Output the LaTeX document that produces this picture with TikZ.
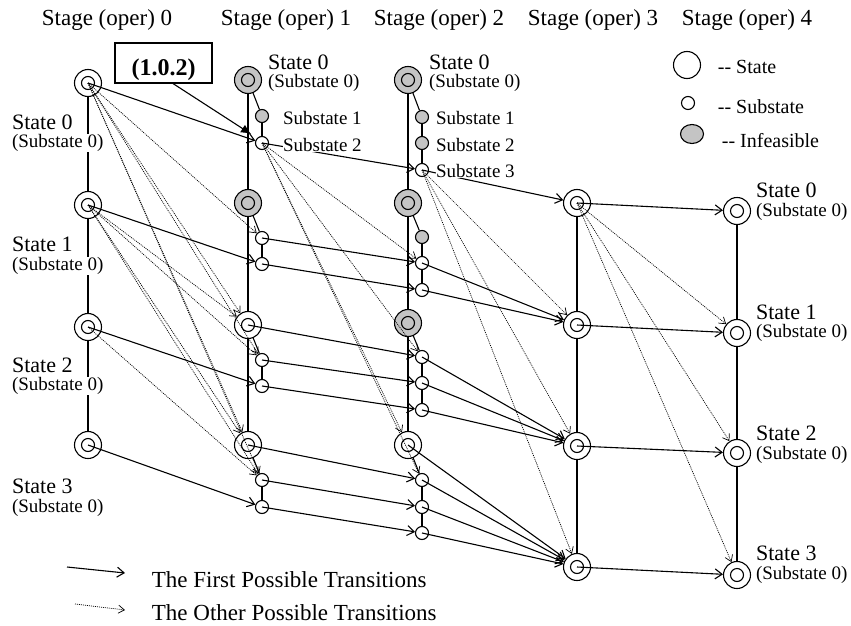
\documentclass[tikz,border=0pt]{standalone}
\usepackage{fontspec}
\setmainfont{Liberation Serif}
\usetikzlibrary{arrows.meta,shapes.geometric}
\definecolor{infgray}{RGB}{196,196,196}
\tikzset{
  st/.style={circle,draw,fill=white,minimum size=27pt,inner sep=0pt,
    path picture={\draw (path picture bounding box.center) circle (6.5pt);}},
  inf/.style={st,fill=infgray},
  sub/.style={circle,draw,fill=white,minimum size=13pt,inner sep=0pt},
  subinf/.style={sub,fill=infgray},
  first/.style={-{Straight Barb[length=7pt,width=10pt]}},
  other/.style={line width=0.7pt,dash pattern=on 1pt off 1pt,black,
    -{Straight Barb[length=6pt,width=8pt]}},
  head/.style={anchor=west,font=\fontsize{23}{23}\selectfont},
  lbl/.style={anchor=west,fill=white,inner sep=0.5pt,font=\fontsize{22}{22}\selectfont},
  sublbl/.style={lbl,font=\fontsize{19}{19}\selectfont},
  leg/.style={anchor=west,font=\fontsize{20}{20}\selectfont},
}
\begin{document}
\begin{tikzpicture}[x=1pt,y=-1pt,line width=1.1pt]
  \useasboundingbox (0,0) rectangle (851,626);
  % stage headers
  \node[head] (h0) at (38,20) {Stage (oper) 0};
  \node[head] (h1) at (217,20) {Stage (oper) 1};
  \node[head] (h2) at (370,20) {Stage (oper) 2};
  \node[head] (h3) at (524,20) {Stage (oper) 3};
  \node[head] (h4) at (678,20) {Stage (oper) 4};
  % stage 0
  \node[st] (a0) at (88,83) {};
  \node[st] (a1) at (88,205) {};
  \node[st] (a2) at (88,327) {};
  \node[st] (a3) at (88,445) {};
  % stage 1
  \node[inf] (b0) at (248,80) {};
  \node[subinf] (b01) at (262,116) {};
  \node[sub] (b02) at (262,143) {};
  \node[inf] (b1) at (248,203) {};
  \node[sub] (b11) at (262,238) {};
  \node[sub] (b12) at (262,264) {};
  \node[st] (b2) at (248,325) {};
  \node[sub] (b21) at (262,360) {};
  \node[sub] (b22) at (262,386) {};
  \node[st] (b3) at (248,445) {};
  \node[sub] (b31) at (262,480) {};
  \node[sub] (b32) at (262,507) {};
  % stage 2
  \node[inf] (c0) at (408,80) {};
  \node[subinf] (c01) at (422,117) {};
  \node[subinf] (c02) at (422,143) {};
  \node[sub] (c03) at (422,170) {};
  \node[inf] (c1) at (408,203) {};
  \node[subinf] (c11) at (422,237) {};
  \node[sub] (c12) at (422,263) {};
  \node[sub] (c13) at (422,290) {};
  \node[inf] (c2) at (408,323) {};
  \node[sub] (c21) at (422,357) {};
  \node[sub] (c22) at (422,383) {};
  \node[sub] (c23) at (422,410) {};
  \node[st] (c3) at (408,445) {};
  \node[sub] (c31) at (422,480) {};
  \node[sub] (c32) at (422,507) {};
  \node[sub] (c33) at (422,533) {};
  % stage 3
  \node[st] (d0) at (577,203) {};
  \node[st] (d1) at (577,325) {};
  \node[st] (d2) at (577,446) {};
  \node[st] (d3) at (577,567) {};
  % stage 4
  \node[st] (e0) at (737,211) {};
  \node[st] (e1) at (737,333) {};
  \node[st] (e2) at (737,453) {};
  \node[st] (e3) at (737,575) {};
  % stage and substate links
  \begin{scope}[-]
    \foreach \p/\q in {a0/a1,a1/a2,a2/a3,
        b0/b1,b1/b2,b2/b3,b0/b01,b01/b02,b1/b11,b11/b12,
        b2/b21,b21/b22,b3/b31,b31/b32,
        c0/c1,c1/c2,c2/c3,c0/c01,c01/c02,c02/c03,c1/c11,c11/c12,c12/c13,
        c2/c21,c21/c22,c22/c23,c3/c31,c31/c32,c32/c33,
        d0/d1,d1/d2,d2/d3,e0/e1,e1/e2,e2/e3}
      \draw (\p) -- (\q);
  \end{scope}
  % first possible transitions
  \begin{scope}[first]
    \draw (a0.center) -- (b02);
    \draw (a1.center) -- (b12);
    \draw (a2.center) -- (b22);
    \draw (a3.center) -- (b32);
    \draw (b02.center) -- (c03);
    \draw (b11.center) -- (c12);
    \draw (b12.center) -- (c13);
    \draw (b2.center) -- (c21);
    \draw (b21.center) -- (c22);
    \draw (b22.center) -- (c23);
    \draw (b3.center) -- (c31);
    \draw (b31.center) -- (c32);
    \draw (b32.center) -- (c33);
    \draw (c03.center) -- (d0);
    \draw (c12.center) -- (d1);
    \draw (c13.center) -- (d1);
    \draw (c21.center) -- (d2);
    \draw (c22.center) -- (d2);
    \draw (c23.center) -- (d2);
    \draw (c3.center) -- (d3);
    \draw (c31.center) -- (d3);
    \draw (c32.center) -- (d3);
    \draw (c33.center) -- (d3);
    \draw (d0.center) -- (e0);
    \draw (d1.center) -- (e1);
    \draw (d2.center) -- (e2);
    \draw (d3.center) -- (e3);
  \end{scope}
  % other possible transitions
  \foreach \p/\q in {a0/b11,a0/b2,a0/b21,a0/b3,a0/b31,
      a1/b2,a1/b21,a1/b3,a1/b31,a2/b31,
      b02/c12,b02/c21,b02/c3,b02/c31,
      c03/d1,c03/d2,c03/d3,d0/e1,d0/e2,d0/e3}
    \draw[other] (\p.center) -- (\q);
  % the (1.0.2) tag
  \node[draw,minimum width=97pt,minimum height=40pt,text height=24pt,text depth=0pt,
    font=\bfseries\fontsize{24}{24}\selectfont] (tag) at (163.5,63) {(1.0.2)};
  \coordinate (tagtip) at (251,134);
  \draw[-{Latex[length=10pt,width=9pt]}] ([xshift=9.5pt]tag.south) -- (tagtip);
  % labels
  \node[lbl] (la0) at (11,122) {State 0};
  \node[sublbl] (la0s) at (11,143) {(Substate 0)};
  \node[lbl] (la1) at (11,244) {State 1};
  \node[sublbl] (la1s) at (11,266) {(Substate 0)};
  \node[lbl] (la2) at (11,365) {State 2};
  \node[sublbl] (la2s) at (11,386) {(Substate 0)};
  \node[lbl] (la3) at (11,486) {State 3};
  \node[sublbl] (la3s) at (11,508) {(Substate 0)};
  \node[lbl] (lb0) at (267,62) {State 0};
  \node[sublbl] (lb0s) at (267,83) {(Substate 0)};
  \node[sublbl] (lb01) at (282,118) {Substate 1};
  \node[sublbl] (lb02) at (282,145) {Substate 2};
  \node[lbl] (lc0) at (428,62) {State 0};
  \node[sublbl] (lc0s) at (428,83) {(Substate 0)};
  \node[sublbl] (lc01) at (435,118) {Substate 1};
  \node[sublbl] (lc02) at (435,145) {Substate 2};
  \node[sublbl] (lc03) at (435,171) {Substate 3};
  \node[lbl] (le0) at (755,190) {State 0};
  \node[sublbl] (le0s) at (755,212) {(Substate 0)};
  \node[lbl] (le1) at (755,312) {State 1};
  \node[sublbl] (le1s) at (755,333) {(Substate 0)};
  \node[lbl] (le2) at (755,433) {State 2};
  \node[sublbl] (le2s) at (755,455) {(Substate 0)};
  \node[lbl] (le3) at (755,553) {State 3};
  \node[sublbl] (le3s) at (755,575) {(Substate 0)};
  % legend
  \node[circle,draw,minimum size=27pt] (legst) at (687,65) {};
  \node[leg] (legstt) at (714,67) {-{}- State};
  \node[circle,draw,minimum size=13pt,inner sep=0pt] (legsub) at (688,103) {};
  \node[leg] (legsubt) at (714,107) {-{}- Substate};
  \node[ellipse,draw,fill=infgray,minimum width=23pt,minimum height=19pt] (leginf) at (692,134) {};
  \node[leg] (leginft) at (718,141) {-{}- Infeasible};
  \coordinate (lf1) at (67,567);
  \coordinate (lf2) at (125,573);
  \draw[first] (lf1) -- (lf2);
  \node[leg,font=\fontsize{23}{23}\selectfont] (lft) at (148,580) {The First Possible Transitions};
  \coordinate (lo1) at (75,604);
  \coordinate (lo2) at (125,610);
  \draw[other] (lo1) -- (lo2);
  \node[leg,font=\fontsize{23}{23}\selectfont] (lot) at (148,613) {The Other Possible Transitions};
\end{tikzpicture}
\end{document}
